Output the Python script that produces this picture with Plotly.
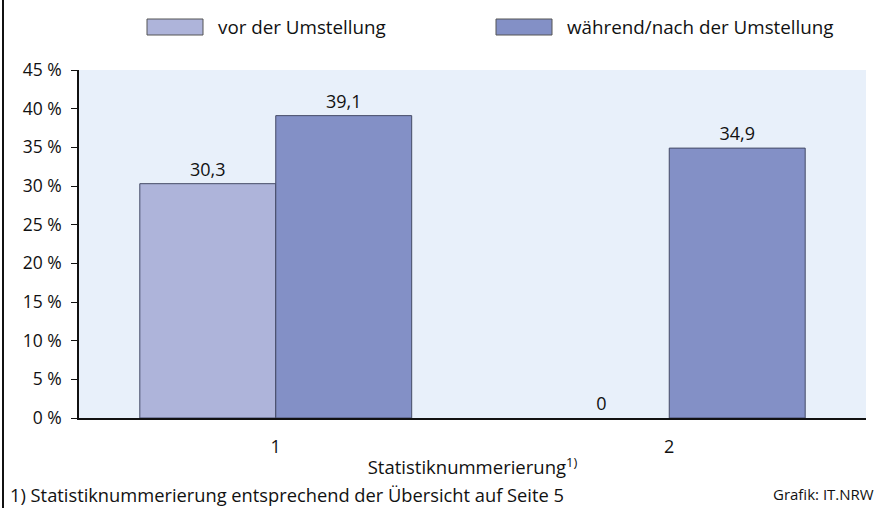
import plotly.graph_objects as go

categories = ["1", "2"]
series_names = ["vor der Umstellung", "während/nach der Umstellung"]
vor_values = [30.3, 0]
nach_values = [39.1, 34.9]
y_ticks = [0, 5, 10, 15, 20, 25, 30, 35, 40, 45]
y_tick_labels = [f"{v} %" for v in y_ticks]
colors = ["#aeb4da", "#8390c6"]

W, H = 880, 508
ML, MR, MT, MB = 79, 14, 70, 90
PW, PH = W - ML - MR, H - MT - MB

def px_x(p):
    return (p - ML) / PW

def px_y(p):
    return (H - MB - p) / PH

def fmt(v):
    return "0" if v == 0 else f"{v:.1f}".replace(".", ",")

FONT = "Open Sans"
fig = go.Figure()
for name, vals, col in zip(series_names, [vor_values, nach_values], colors):
    fig.add_trace(go.Bar(
        x=categories, y=vals, name=name,
        marker=dict(color=col, line=dict(color="#444a66",
                                         width=[1 if v else 0 for v in vals])),
        text=[fmt(v) for v in vals], textposition="outside",
        textfont=dict(size=18, color="#111", family=FONT),
        cliponaxis=False, showlegend=False,
    ))

shapes = [
    dict(type="line", xref="paper", yref="paper",
         x0=px_x(3), x1=px_x(3), y0=px_y(508), y1=px_y(0),
         line=dict(color="#111", width=2)),
]
annotations = []
legend_items = [(147, 203, 216), (496, 552, 565)]
for (x0, x1, tx), name, col in zip(legend_items, series_names, colors):
    shapes.append(dict(type="rect", xref="paper", yref="paper",
                       x0=px_x(x0), x1=px_x(x1), y0=px_y(35), y1=px_y(19),
                       fillcolor=col, line=dict(color="#555", width=1)))
    annotations.append(dict(xref="paper", yref="paper", x=px_x(tx), y=px_y(27),
                            text=name, showarrow=False, xanchor="left", yanchor="middle",
                            font=dict(size=18.8, color="#111", family=FONT)))
annotations.append(dict(xref="paper", yref="paper", x=px_x(8), y=px_y(494),
                        text="1) Statistiknummerierung entsprechend der Übersicht auf Seite 5",
                        showarrow=False, xanchor="left", yanchor="middle",
                        font=dict(size=18.3, color="#111", family=FONT)))
annotations.append(dict(xref="paper", yref="paper", x=px_x(876), y=px_y(494),
                        text="Grafik: IT.NRW",
                        showarrow=False, xanchor="right", yanchor="middle",
                        font=dict(size=15, color="#111", family=FONT)))

fig.update_layout(
    width=W, height=H,
    margin=dict(l=ML, r=MR, t=MT, b=MB, pad=0),
    paper_bgcolor="white", plot_bgcolor="#e8f0fa",
    barmode="group", bargap=0.309, bargroupgap=0,
    separators=",.",
    font=dict(family=FONT, size=18, color="#111"),
    shapes=shapes, annotations=annotations,
    xaxis=dict(
        type="category", range=[-0.5, 1.5], showgrid=False,
        showline=True, linecolor="#111", linewidth=1.5,
        ticks="outside", ticklen=12, tickcolor="rgba(0,0,0,0)",
        tickfont=dict(size=18, family=FONT, color="#111"),
        title=dict(text="Statistiknummerierung<sup>1)</sup>", standoff=4,
                   font=dict(size=18.5, family=FONT, color="#111")),
    ),
    yaxis=dict(
        range=[0, 45], tickmode="array", tickvals=y_ticks, ticktext=y_tick_labels,
        showgrid=False, zeroline=False,
        showline=True, linecolor="#111", linewidth=1.5,
        ticks="outside", ticklen=6, tickcolor="#111", tickwidth=1,
        ticklabelstandoff=6,
        tickfont=dict(size=17.5, family=FONT, color="#111"),
    ),
)
fig.write_html("out.html", config={"displayModeBar": False},
               post_script="document.body.style.margin='0';")
